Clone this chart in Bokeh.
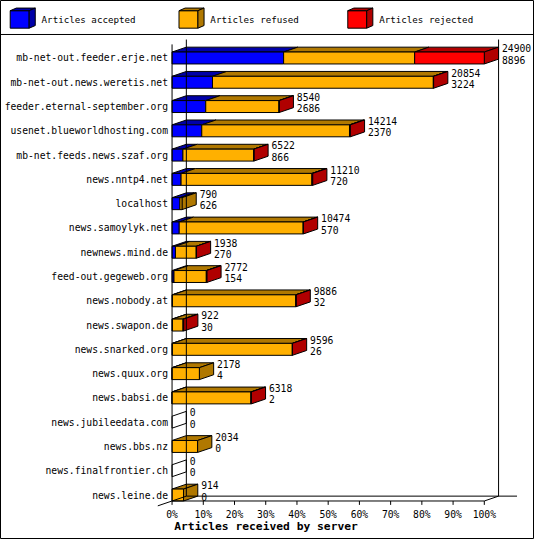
from bokeh.plotting import figure
from bokeh.models import Range1d
from bokeh.core.properties import value
from bokeh.embed import file_html
from bokeh.resources import INLINE

servers = [
    "mb-net-out.feeder.erje.net", "mb-net-out.news.weretis.net",
    "feeder.eternal-september.org", "usenet.blueworldhosting.com",
    "mb-net.feeds.news.szaf.org", "news.nntp4.net", "localhost",
    "news.samoylyk.net", "newnews.mind.de", "feed-out.gegeweb.org",
    "news.nobody.at", "news.swapon.de", "news.snarked.org", "news.quux.org",
    "news.babsi.de", "news.jubileedata.com", "news.bbs.nz",
    "news.finalfrontier.ch", "news.leine.de",
]
offered = [24900, 20854, 8540, 14214, 6522, 11210, 790, 10474, 1938, 2772,
           9886, 922, 9596, 2178, 6318, 0, 2034, 0, 914]
accepted = [8896, 3224, 2686, 2370, 866, 720, 626, 570, 270, 154,
            32, 30, 26, 4, 2, 0, 0, 0, 0]
rejected = [5554, 18, 12, 64, 10, 58, 0, 20, 8, 40,
            20, 48, 6, 0, 30, 0, 0, 0, 0]
refused = [o - a - r for o, a, r in zip(offered, accepted, rejected)]

series_names = ["Articles accepted", "Articles refused", "Articles rejected"]
face_colors = ["#0000ff", "#ffb000", "#ff0000"]
shade_colors = ["#0000a8", "#b07800", "#b00000"]
tick_values = list(range(0, 101, 10))
tick_labels = [f"{t}%" for t in tick_values]
axis_title = "Articles received by server"

FONT = value("DejaVu Sans Mono")
W, H = 534, 539
REF_W, REF_H = 550, 555

# layout of the original image, in its pixels
X0, X100 = 176.7, 498.3
Y0, ROW = 59.2, 25.0
ppu = (X100 - X0) / 100


def px(x):
    return (x - X0) / ppu


def py(y):
    return (y - Y0) / ROW


DX = 14.7 / ppu
DY = 5.0 / ROW
HALF = 6.15 / ROW

p = figure(width=W, height=H, output_backend="svg", toolbar_location=None,
           x_axis_type=None, y_axis_type=None,
           x_range=Range1d(px(0), px(REF_W)), y_range=Range1d(py(REF_H), py(0)),
           min_border=0)
p.xgrid.visible = False
p.ygrid.visible = False
p.outline_line_color = "black"
p.outline_line_width = 1

total_max = max(offered)

fr = dict(left=[], right=[], top=[], bottom=[], color=[])
tp = dict(xs=[], ys=[], color=[], alpha=[])
for i in range(len(servers)):
    parts = [accepted[i], refused[i], rejected[i]]
    yt, yb = i - HALF, i + HALF
    start = 0
    last = None
    for k, v in enumerate(parts):
        if v <= 0:
            continue
        a = start / total_max * 100
        b = (start + v) / total_max * 100
        fr["left"].append(a)
        fr["right"].append(b)
        fr["top"].append(yt)
        fr["bottom"].append(yb)
        fr["color"].append(face_colors[k])
        tp["xs"].append([a, a + DX, b + DX, b])
        tp["ys"].append([yt, yt - DY, yt - DY, yt])
        tp["color"].append(shade_colors[k])
        tp["alpha"].append(1)
        start += v
        last = k
    e = start / total_max * 100
    tp["xs"].append([e, e + DX, e + DX, e])
    tp["ys"].append([yt, yt - DY, yb - DY, yb])
    tp["color"].append(shade_colors[last] if last is not None else "white")
    tp["alpha"].append(1 if last is not None else 0)

p.patches(xs="xs", ys="ys", fill_color="color", fill_alpha="alpha",
          line_color="black", line_width=1, source=tp)
p.quad(left="left", right="right", top="top", bottom="bottom",
       fill_color="color", line_color="black", line_width=1, source=fr)

# walls and floor
base_f = len(servers) - 1 + HALF
base_b = base_f - DY
top_b = py(40.2)
top_f = top_b + DY
p.segment(x0=[0, DX, 100 + DX, DX, 0, 100, -DX],
          y0=[top_f, top_b, top_b, base_b, base_f, base_f, base_f + DY],
          x1=[0, DX, 100 + DX, px(532), 100, 100 + DX, DX],
          y1=[base_f, base_b, base_b, base_b, base_f, base_b, base_b],
          line_color="black", line_width=1)

# x ticks
p.segment(x0=tick_values, y0=[base_f] * len(tick_values),
          x1=tick_values, y1=[base_f + 4 / ROW] * len(tick_values),
          line_color="black", line_width=1)
p.text(x=tick_values, y=[base_f + 13.7 / ROW] * len(tick_values), text=tick_labels,
       text_font=FONT, text_font_size=value("9.7px"), text_align="center",
       text_baseline="middle", text_color="black")
p.text(x=[px(273.5)], y=[py(541.7)], text=[axis_title], text_font=FONT,
       text_font_size=value("11.3px"), text_font_style="bold",
       text_align="center", text_baseline="middle", text_color="black")

# server names
p.text(x=[px(172.5)] * len(servers), y=list(range(len(servers))), text=servers,
       text_font=FONT, text_font_size=value("9.7px"), text_align="right",
       text_baseline="middle", text_color="black")

# value labels
ends = [o / total_max * 100 + DX + 3.5 / ppu for o in offered]
rows = list(range(len(servers)))
p.text(x=ends, y=[r - 10 / ROW for r in rows], text=[str(o) for o in offered],
       text_font=FONT, text_font_size=value("9.7px"), text_baseline="middle",
       text_color="black")
p.text(x=ends, y=[r + 1.6 / ROW for r in rows], text=[str(a) for a in accepted],
       text_font=FONT, text_font_size=value("9.7px"), text_baseline="middle",
       text_color="black")

# legend strip
p.segment(x0=[px(0)], y0=[py(35)], x1=[px(REF_W)], y1=[py(35)],
          line_color="black", line_width=1)
lx = [10 + k * 173.85 for k in range(3)]
lw, ldx, ldy = 19.5, 6.3, 2.7
p.quad(left=[px(x) for x in lx], right=[px(x + lw) for x in lx],
       top=[py(10.5)] * 3, bottom=[py(28.5)] * 3,
       fill_color=face_colors, line_color="black", line_width=1)
p.patches(xs=[[px(x), px(x + ldx), px(x + lw + ldx), px(x + lw)] for x in lx],
          ys=[[py(10.5), py(10.5 - ldy), py(10.5 - ldy), py(10.5)]] * 3,
          fill_color=shade_colors, line_color="black", line_width=1)
p.patches(xs=[[px(x + lw), px(x + lw + ldx), px(x + lw + ldx), px(x + lw)] for x in lx],
          ys=[[py(10.5), py(10.5 - ldy), py(28.5 - ldy), py(28.5)]] * 3,
          fill_color=shade_colors, line_color="black", line_width=1)
p.text(x=[px(x + 32.3) for x in lx], y=[py(20)] * 3, text=series_names,
       text_font=FONT, text_font_size=value("9.2px"), text_baseline="middle",
       text_color="black")

open("out.html", "w").write(file_html(p, INLINE))
